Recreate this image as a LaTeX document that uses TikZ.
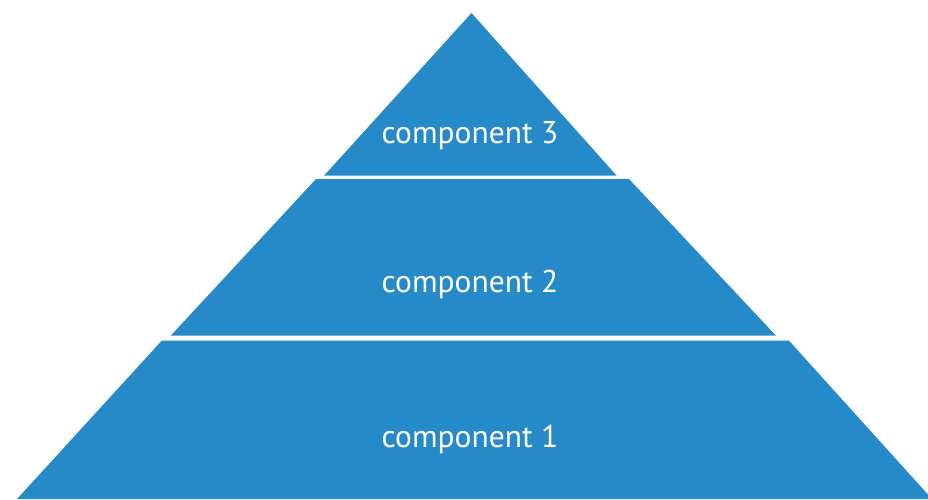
\documentclass[tikz,border=0pt]{standalone}
\usepackage{fontspec}
\setmainfont{PT Sans}
\definecolor{tier}{RGB}{38,137,200}
\begin{document}
\begin{tikzpicture}[x=1pt,y=-1pt,
  tierfill/.style={fill=tier,draw=none},
  label/.style={text=white,font=\fontsize{31.5}{34}\selectfont,anchor=base,inner sep=0pt}]
\useasboundingbox (0,0) rectangle (928,499);
\fill[tierfill] (471.5,13) -- (616.7,175.7) -- (324,175.7) -- cycle;
\fill[tierfill] (316,179) -- (629,179) -- (776,335.7) -- (170.7,335.7) -- cycle;
\fill[tierfill] (161.7,340.7) -- (789,340.7) -- (932,499) -- (17,499) -- cycle;
\node[label] (c3) at (470,143) {component 3};
\node[label] (c2) at (470,292.5) {component 2};
\node[label] (c1) at (470,447.5) {component 1};
\end{tikzpicture}
\end{document}
